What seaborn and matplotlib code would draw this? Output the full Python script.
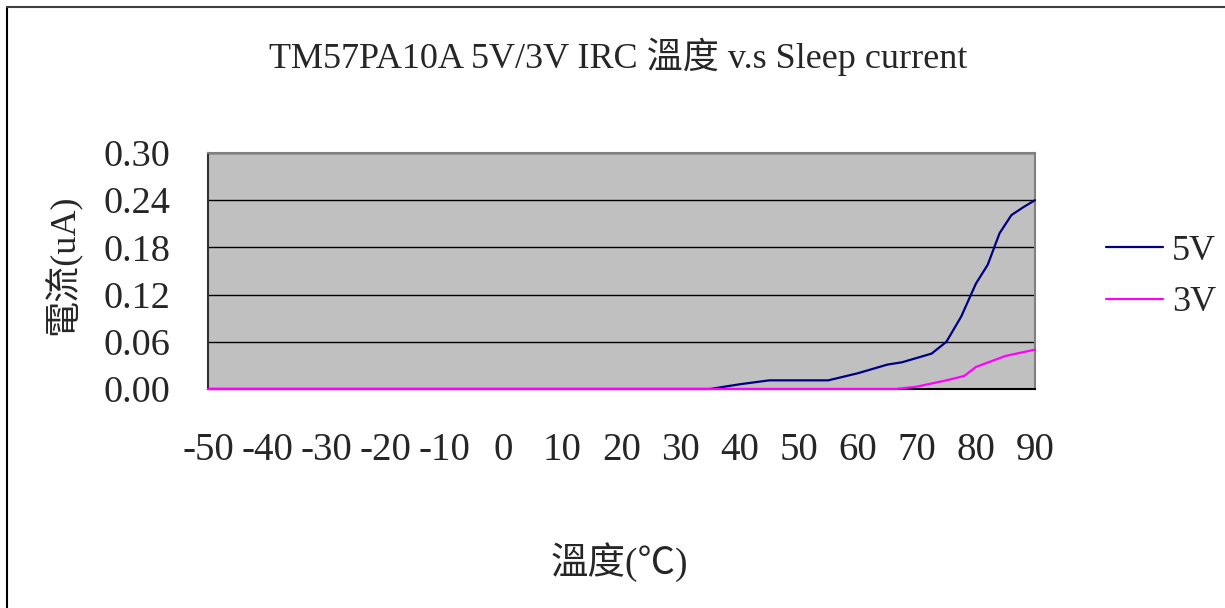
""" TM57PA10A IRC sleep current vs temperature chart. """
import pandas as pd
import matplotlib.pyplot as plt
import seaborn as sns
from matplotlib.lines import Line2D

# Data
temps_5v = [-50, 35, 40, 45, 50, 55, 60, 65, 67.5, 72.5, 75, 77.5, 80, 82, 84, 86, 88, 90]
current_5v = [0, 0, 0.006, 0.011, 0.011, 0.011, 0.020, 0.031, 0.034, 0.045,
              0.060, 0.092, 0.134, 0.158, 0.198, 0.221, 0.231, 0.240]
temps_3v = [-50, 66.5, 70, 75, 78, 80, 82.5, 85, 87.5, 90]
current_3v = [0, 0, 0.003, 0.011, 0.0165, 0.028, 0.035, 0.042, 0.046, 0.050]
x_ticks = list(range(-50, 91, 10))
y_ticks = [0.00, 0.06, 0.12, 0.18, 0.24, 0.30]

df = pd.concat([
    pd.DataFrame({"temp": temps_5v, "current": current_5v, "series": "5V"}),
    pd.DataFrame({"temp": temps_3v, "current": current_3v, "series": "3V"}),
])

sns.set_style("white")
plt.rcParams["font.family"] = ["Liberation Serif", "Noto Sans CJK TC"]

fig = plt.figure(figsize=(12.25, 6.08), dpi=100)
ax = fig.add_axes([208 / 1225, 1 - 389 / 608, (1035 - 208) / 1225, (389 - 153) / 608])
ax.set_facecolor("#C0C0C0")

sns.lineplot(
    data=df, x="temp", y="current", hue="series", hue_order=["5V", "3V"],
    palette={"5V": "#000080", "3V": "#FF00FF"}, linewidth=1.6, ax=ax,
    legend=False, estimator=None, sort=False,
)
# keep the zero-level lines visible over the bottom axis line
for line in ax.get_lines():
    line.set_clip_on(False)
    line.set_zorder(5)

ax.set_xlim(-50, 90)
ax.set_ylim(0, 0.30)
ax.set_xticks(x_ticks)
ax.set_xticklabels([str(t) for t in x_ticks])
ax.set_yticks(y_ticks)
ax.set_yticklabels([f"{v:.2f}" for v in y_ticks])
ax.yaxis.grid(True, color="black", linewidth=1)
ax.xaxis.grid(False)
ax.tick_params(axis="x", direction="in", length=8, width=1, color="#404040",
               pad=31, labelsize=28)
ax.tick_params(axis="y", length=0, pad=27, labelsize=27.5)
ax.set_xlabel("")
ax.set_ylabel("")

for side, col in [("left", "#303030"), ("bottom", "black"), ("top", "#808080"), ("right", "#808080")]:
    ax.spines[side].set_visible(True)
    ax.spines[side].set_color(col)
    ax.spines[side].set_linewidth(1.5)

fig.text(0.505, 1 - 57 / 608, "TM57PA10A 5V/3V IRC 溫度 v.s Sleep current",
         ha="center", va="center", fontsize=26)
fig.text(0.506, 1 - 562 / 608, "溫度(℃)", ha="center", va="center", fontsize=27)
fig.text(62 / 1225, 1 - 265 / 608, "電流(uA)", ha="center", va="center",
         rotation=90, fontsize=26)

handles = [Line2D([], [], color="#000080", linewidth=1.6),
           Line2D([], [], color="#FF00FF", linewidth=1.6)]
fig.legend(handles, ["5V", "3V"], loc="center left",
           bbox_to_anchor=(1073 / 1225, 1 - 277 / 608), frameon=False,
           fontsize=26, handlelength=1.6, labelspacing=0.5, handletextpad=0.25)

# outer chart frame
fig.add_artist(Line2D([7 / 1225, 7 / 1225], [0, 1 - 7 / 608], color="black",
                      linewidth=1.5, transform=fig.transFigure))
fig.add_artist(Line2D([7 / 1225, 1], [1 - 7 / 608, 1 - 7 / 608], color="#404040",
                      linewidth=1.5, transform=fig.transFigure))

fig.savefig("out.png", dpi=100)
